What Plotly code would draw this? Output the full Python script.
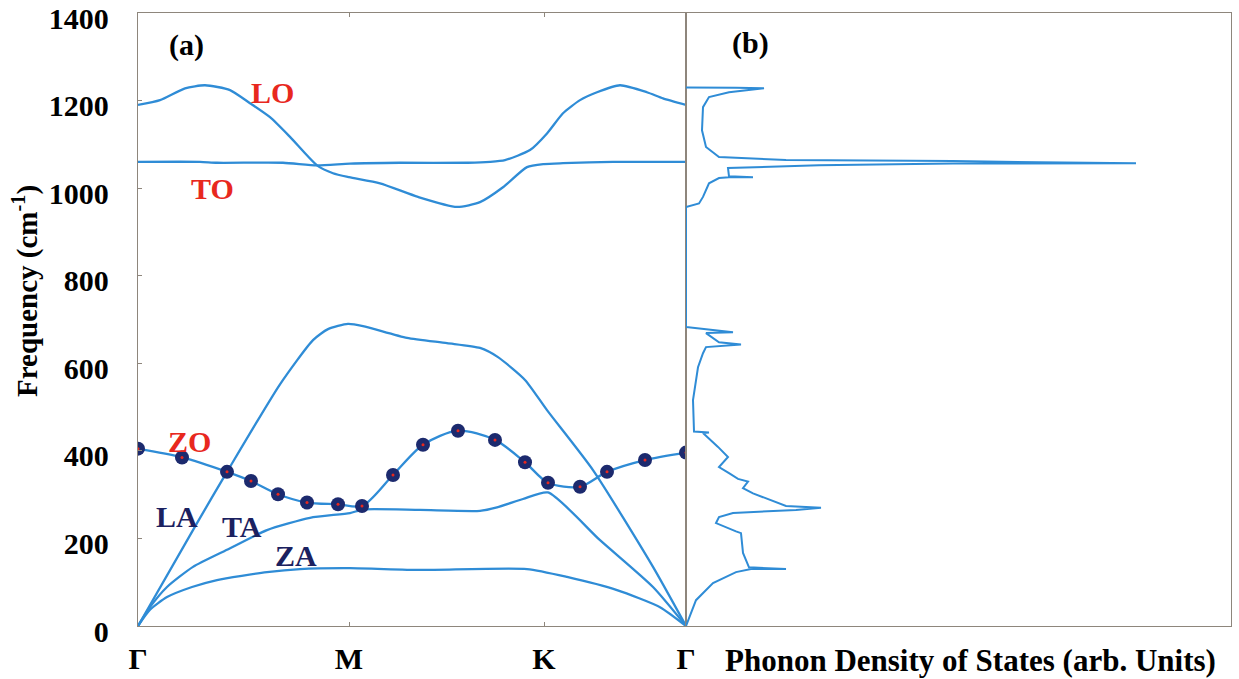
import plotly.graph_objects as go

# ---------------- data (path distance in arbitrary units: Γ=0, M=211, K=406, Γ=548) ----------------
k_ticks = [0, 211, 406, 548]
k_labels = ["Γ", "M", "K", "Γ"]
f_ticks = [0, 200, 400, 600, 800, 1000, 1200, 1400]

lo_k = [0, 22, 47, 67, 92, 112, 132, 152, 179, 195, 211, 242, 280, 319, 342, 365, 389, 406, 425, 475, 548]
lo_f = [1190, 1201, 1228, 1235, 1224, 1194, 1162, 1117, 1052, 1034, 1025, 1011, 980, 957, 968, 1002, 1048, 1055, 1057, 1060, 1060]

to_k = [0, 62, 79, 145, 179, 212, 262, 330, 352, 367, 392, 409, 425, 442, 459, 482, 509, 525, 548]
to_f = [1060, 1060, 1058, 1058, 1052, 1056, 1058, 1058, 1060, 1064, 1087, 1125, 1171, 1201, 1219, 1235, 1219, 1205, 1190]

la_k = [0, 59, 89, 142, 175, 190, 210, 225, 269, 309, 342, 360, 387, 409, 455, 515, 548]
la_f = [0, 235, 352, 552, 653, 678, 690, 685, 658, 646, 635, 614, 562, 493, 356, 135, 0]

ta_k = [0, 12, 29, 55, 89, 129, 172, 212, 225, 282, 342, 359, 385, 410, 462, 515, 548]
ta_f = [0, 43, 89, 135, 174, 219, 247, 258, 266, 265, 263, 271, 290, 305, 196, 89, 0]

za_k = [0, 12, 29, 54, 79, 129, 162, 212, 282, 389, 429, 479, 522, 548]
za_f = [0, 37, 66, 89, 105, 123, 130, 132, 128, 130, 112, 82, 43, 0]

zo_k = [0, 44, 89, 113, 140, 169, 200, 224, 255, 285, 320, 357, 387, 410, 442, 469, 507, 548]
zo_f = [405, 385, 352, 331, 301, 282, 278, 274, 345, 414, 446, 425, 374, 327, 318, 352, 379, 396]

# phonon density of states (arb. units)
dos_val = [0, 10, 27, 50, 65, 100, 63, 57, 55, 50, 30, 33, 47, 110, 135, 100, 67, 57, 62, 52, 43, 33, 42, 32,
           17, 23, 8, 7, 12, 17, 20, 55, 33, 20, 47, 13, 0, 0, 13, 17, 23, 33, 43, 67, 43, 42, 67, 133, 267, 450,
           353, 267, 100, 33, 20, 16, 17, 23, 43, 78, 50, 0]
dos_f = [0, 59, 98, 123, 130, 130, 134, 167, 212, 216, 235, 249, 258, 265, 270, 274, 303, 315, 330, 336, 349, 363, 386, 409,
         441, 442, 444, 516, 591, 623, 637, 643, 648, 669, 671, 679, 683, 957, 965, 980, 1011, 1023, 1025, 1025, 1027, 1046, 1048, 1052, 1056, 1057,
         1059, 1062, 1064, 1071, 1094, 1132, 1185, 1208, 1219, 1228, 1229, 1230]

# ---------------- styling ----------------
BLUE = "#2f8cd6"
FRAME = "#8e867c"
RED = "#e8281e"
NAVY = "#1b2160"
SERIF = "Liberation Serif"
FS = 30

W, H = 1239, 679
L, R, T, B = 138, 8, 13, 53
PW, PH = W - L - R, H - T - B
split = 548 / PW


def px(x):
    return (x - L) / PW


def py(y):
    return (H - B - y) / PH


fig = go.Figure()
for kk, ff, nm in [(lo_k, lo_f, "LO"), (to_k, to_f, "TO"), (la_k, la_f, "LA"),
                   (ta_k, ta_f, "TA"), (za_k, za_f, "ZA")]:
    fig.add_trace(go.Scatter(x=kk, y=ff, mode="lines", name=nm,
                             line=dict(color=BLUE, width=2.3, shape="spline", smoothing=0.6),
                             xaxis="x", yaxis="y", showlegend=False))
fig.add_trace(go.Scatter(x=zo_k, y=zo_f, mode="lines+markers", name="ZO",
                         line=dict(color=BLUE, width=2.3, shape="spline", smoothing=0.8),
                         marker=dict(size=14, color="#1c2a6e", line=dict(width=0)),
                         xaxis="x", yaxis="y", showlegend=False))
fig.add_trace(go.Scatter(x=zo_k, y=zo_f, mode="markers", name="ZO centre",
                         marker=dict(size=3, color=RED), xaxis="x", yaxis="y",
                         showlegend=False, hoverinfo="skip"))
fig.add_trace(go.Scatter(x=dos_val, y=dos_f, mode="lines", name="DOS",
                         line=dict(color=BLUE, width=2),
                         xaxis="x2", yaxis="y2", showlegend=False))

tickfont = dict(family=SERIF, size=FS, color="black", weight="bold")
common = dict(showgrid=False, zeroline=False, showline=True, linecolor=FRAME, linewidth=1.3,
              automargin=False)
fig.update_layout(
    width=W, height=H,
    margin=dict(l=L, r=R, t=T, b=B, autoexpand=False),
    paper_bgcolor="white", plot_bgcolor="white",
    xaxis=dict(domain=[0, split], range=[0, 548], tickvals=k_ticks, ticktext=k_labels,
               mirror="ticks", ticks="inside", ticklen=4, tickcolor=FRAME,
               tickfont=tickfont, ticklabelstandoff=6, **common),
    yaxis=dict(domain=[0, 1], range=[0, 1400], tickvals=f_ticks,
               mirror=True, ticks="inside", ticklen=4, tickcolor=FRAME,
               tickfont=tickfont, ticklabelstandoff=22, ticklabelshift=5,
               ticklabeloverflow="allow", anchor="x", **common),
    xaxis2=dict(domain=[split, 1], range=[0, 545], showticklabels=False, ticks="",
                mirror=True, anchor="y2", **common),
    yaxis2=dict(domain=[0, 1], range=[0, 1400], matches="y", showticklabels=False, ticks="",
                mirror=True, anchor="x2", **common),
)

ann = []


def label(text, x, y, color="black", size=FS, angle=0):
    ann.append(dict(text=text, x=px(x), y=py(y), xref="paper", yref="paper",
                    showarrow=False, xanchor="center", yanchor="middle", textangle=angle,
                    font=dict(family=SERIF, size=size, color=color, weight="bold")))


label("(a)", 186, 45)
label("(b)", 750, 43)
label("LO", 272, 92, RED)
label("TO", 212, 188, RED)
label("ZO", 189, 442, RED)
label("LA", 177, 516, NAVY)
label("TA", 242, 526, NAVY)
label("ZA", 296, 555, NAVY)
label("Frequency (cm<sup>-1</sup>)", 25, 291, "black", 29, -90)
label("Phonon Density of States (arb. Units)", 970, 660, "black", 31)
fig.update_layout(annotations=ann)

fig.write_html("out.html")
